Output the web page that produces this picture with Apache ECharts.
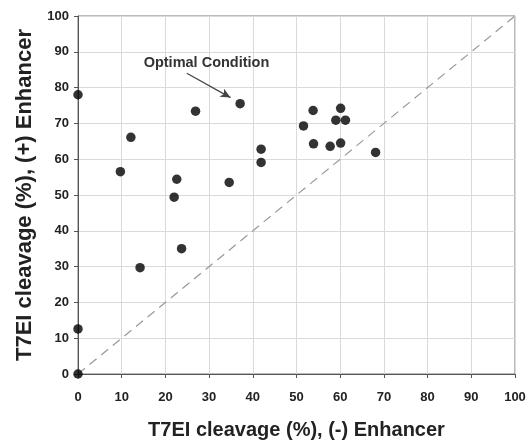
<!DOCTYPE html>
<html>
<head>
<meta charset="utf-8">
<script src="https://cdn.jsdelivr.net/npm/echarts@6/dist/echarts.min.js"></script>
<style>
  html, body { margin: 0; padding: 0; background: #fff; }
  .main { width: 527px; height: 445px; }
</style>
</head>
<body>
<div class="main"></div>
<script>
// T7EI cleavage: (-) enhancer vs (+) enhancer
var minusEnhancer = [0, 12.1, 9.7, 26.9, 37.1, 41.9, 41.9, 22.6, 34.6, 22.0, 14.2, 23.7, 0, 0,
  53.8, 60.1, 59.0, 61.2, 51.6, 53.9, 57.7, 60.1, 68.1];
var plusEnhancer = [78.0, 66.1, 56.5, 73.4, 75.5, 62.8, 59.1, 54.4, 53.5, 49.4, 29.7, 35.0, 12.6, 0,
  73.6, 74.2, 70.9, 70.9, 69.3, 64.3, 63.6, 64.5, 61.9];
var diagonal = [[0, 0], [100, 100]];
var noteText = 'Optimal Condition';
var notePos = [29.4, 87.0];
var arrowFrom = [24.9, 84.0];
var arrowTo = [34.9, 77.2];

(function() {
  var myChart = echarts.init(document.querySelector(".main"));
  var font = '"Liberation Sans", Arial, sans-serif';
  var points = minusEnhancer.map(function(x, i) { return [x, plusEnhancer[i]]; });
  var option = {
    animation: false,
    textStyle: { fontFamily: font },
    grid: {
      left: 78, right: 12, top: 16, bottom: 71,
      outerBoundsMode: 'none',
      show: true,
      borderColor: '#777',
      borderWidth: 1
    },
    xAxis: {
      type: 'value', min: 0, max: 100, interval: 10,
      name: 'T7EI cleavage (%), (-) Enhancer',
      nameLocation: 'middle', nameGap: 46,
      nameTextStyle: { fontSize: 20, fontWeight: 'bold', color: '#222', fontFamily: font },
      axisLine: { show: true, lineStyle: { color: '#555' } },
      axisTick: { show: true, length: 4, lineStyle: { color: '#555' } },
      axisLabel: { fontSize: 13, fontWeight: 'bold', color: '#222', margin: 17, fontFamily: font },
      splitLine: { lineStyle: { color: '#dadada' } }
    },
    yAxis: {
      type: 'value', min: 0, max: 100, interval: 10,
      name: 'T7EI cleavage (%), (+) Enhancer',
      nameLocation: 'middle', nameGap: 37,
      nameTextStyle: { fontSize: 22, fontWeight: 'bold', color: '#222', fontFamily: font },
      axisLine: { show: true, lineStyle: { color: '#555' } },
      axisTick: { show: true, length: 4, lineStyle: { color: '#555' } },
      axisLabel: { fontSize: 13, fontWeight: 'bold', color: '#222', margin: 9, fontFamily: font },
      splitLine: { lineStyle: { color: '#dadada' } }
    },
    series: [
      {
        type: 'line',
        data: diagonal,
        symbol: 'none',
        silent: true,
        lineStyle: { color: '#999', width: 1.2, type: [9, 6] },
        z: 1
      },
      {
        type: 'scatter',
        data: points,
        symbolSize: 9.5,
        itemStyle: { color: '#000' },
        z: 3,
        markPoint: {
          symbol: 'rect',
          symbolSize: 1,
          itemStyle: { color: 'transparent' },
          label: {
            show: true,
            formatter: noteText,
            fontSize: 14.5,
            fontWeight: 'bold',
            color: '#333',
            fontFamily: font
          },
          data: [{ coord: notePos }]
        },
        markLine: {
          silent: true,
          symbol: ['none', 'arrow'],
          symbolSize: [7, 10],
          label: { show: false },
          lineStyle: { color: '#444', width: 1.2, type: 'solid' },
          data: [[{ coord: arrowFrom }, { coord: arrowTo }]]
        }
      }
    ]
  };
  myChart.setOption(option);
  window.addEventListener("resize", function() {
    myChart.resize();
  });
})();
</script>
</body>
</html>
